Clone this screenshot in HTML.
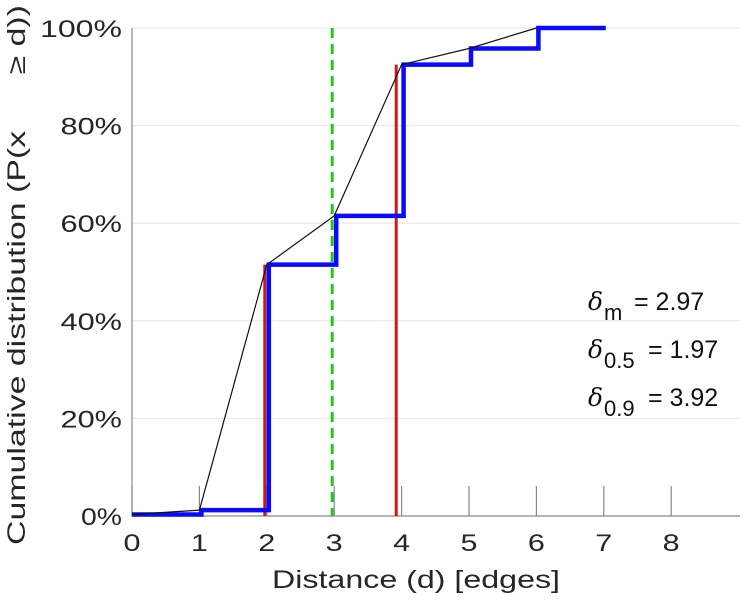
<!DOCTYPE html>
<html><head><meta charset="utf-8"><style>
body{margin:0;background:#fff;}
svg{display:block;font-family:"Liberation Sans",sans-serif;}
</style></head><body>
<svg id="chart" width="749" height="600" viewBox="0 0 749 600"></svg>
<script>
const xs = [0,1,2,3,4,5,6,7];
const cdf = [0.3,1.2,51.5,61.5,92.5,95.8,100,100];
const lineXs = [0,1,2,3,4,5,6];
const lineVals = [0.3,1.2,51.5,61.5,92.5,95.8,100];
const xTicks = [0,1,2,3,4,5,6,7,8];
const yTicks = [0,20,40,60,80,100];
const mean = 2.97, d05 = 1.97, d09 = 3.92;
const d05val = 51.5, d09val = 92.5;
const statLabels = [["m","2.97"],["0.5","1.97"],["0.9","3.92"]];

const NS="http://www.w3.org/2000/svg";
const svg=document.getElementById('chart');
const X=v=>132+v*67.4;
const Y=v=>516-v*4.88;
function mk(t,a,p){const e=document.createElementNS(NS,t);for(const k in a)e.setAttribute(k,a[k]);(p||svg).appendChild(e);return e;}

yTicks.forEach(t=>{
  if(t>0){const g=mk('line',{x1:132,x2:740,y1:Y(t),y2:Y(t),stroke:'#e6e6e6','stroke-width':1});
  
  }
  const s=String(t)+'%';
  const l=mk('text',{x:122,y:Y(t)+9,'text-anchor':'end','font-size':24,fill:'#262626',textLength:s.length*20.5,lengthAdjust:'spacingAndGlyphs'});
  l.textContent=s;
  
  
});
const ax=mk('path',{d:`M132,${Y(100)} V516 H740`,stroke:'#888',fill:'none','stroke-width':1.2});


xTicks.forEach(t=>{
  const tk=mk('line',{x1:X(t),x2:X(t),y1:516,y2:486,stroke:'#888','stroke-width':1.2});
  
  
  const l=mk('text',{x:X(t),y:551,'text-anchor':'middle','font-size':24,fill:'#262626',textLength:17,lengthAdjust:'spacingAndGlyphs'});
  l.textContent=t;
  
  
});
const gm=mk('line',{x1:X(mean),x2:X(mean),y1:Y(100),y2:516,stroke:'#1ec81e','stroke-width':3,'stroke-dasharray':'10,6'});


[[d05,d05val],[d09,d09val]].forEach(([d,v],i)=>{
  const r=mk('line',{x1:X(d),x2:X(d),y1:Y(v),y2:516,stroke:'#cc1a1a','stroke-width':3});
  
  
});
let d=`M${X(xs[0])},${Y(cdf[0])}`;
for(let i=1;i<xs.length;i++){d+=` H${X(xs[i])+2} V${Y(cdf[i])}`;}
const st=mk('path',{d:d,stroke:'#0a0aff','stroke-width':4.5,fill:'none'});


const pl=mk('polyline',{points:lineXs.map((x,i)=>X(x)+','+Y(lineVals[i])).join(' '),stroke:'#111',fill:'none','stroke-width':1.2});


statLabels.forEach((s,i)=>{
  const y=310+i*48;
  const g=mk('g',{});
  
  
  const a=mk('text',{x:588,y:y,'font-size':25,fill:'#111','font-style':'italic','font-family':'DejaVu Serif, serif'},g);
  a.textContent='δ';
  const b=mk('text',{x:604,y:y+10,'font-size':22,fill:'#111'},g);
  b.textContent=s[0];
  const c=mk('text',{x:(i===0?634:648),y:y,'font-size':25,fill:'#111'},g);
  c.textContent='= '+s[1];
});
const xt=mk('text',{x:416,y:588,'text-anchor':'middle','font-size':25,fill:'#262626',textLength:288,lengthAdjust:'spacingAndGlyphs'});
xt.textContent='Distance (d) [edges]';


const yt=mk('text',{x:0,y:0,'text-anchor':'middle','font-size':25,fill:'#262626',textLength:540,lengthAdjust:'spacingAndGlyphs',transform:'translate(25,275) rotate(-90)'});
yt.textContent='Cumulative distribution (P(x \u00a0\u00a0\u00a0\u00a0\u00a0≥ d))';


</script>
</body></html>
